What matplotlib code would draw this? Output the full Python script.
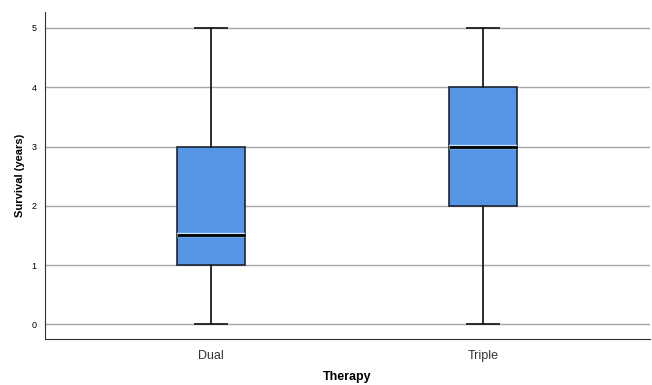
import matplotlib
matplotlib.use("Agg")
import matplotlib.pyplot as plt
import matplotlib.patheffects as pe

categories = ["Dual", "Triple"]
mins = [0, 0]
q1s = [1, 2]
medians = [1.5, 3]
q3s = [3, 4]
maxs = [5, 5]

plt.rcParams["font.family"] = ["Liberation Sans", "DejaVu Sans"]

fig = plt.figure(figsize=(6.52, 3.85), dpi=100)
ax = fig.add_axes([0.069, 0.119, 0.928, 0.850])

stats = [
    {"label": c, "whislo": lo, "q1": a, "med": m, "q3": b, "whishi": hi}
    for c, lo, a, m, b, hi in zip(categories, mins, q1s, medians, q3s, maxs)
]

for y in range(0, 6):
    ax.axhline(y, color="#a6a6a6", lw=1.0, zorder=0)

ax.bxp(
    stats, positions=[0, 1], widths=0.25, showfliers=False, patch_artist=True,
    boxprops=dict(facecolor="#5595e5", edgecolor="#1c2633", lw=1.2),
    whiskerprops=dict(color="#1c1c1c", lw=1.3),
    capprops=dict(color="#1c1c1c", lw=1.3),
    capwidths=0.12,
    medianprops=dict(color="black", lw=2.0,
                     path_effects=[pe.Stroke(linewidth=3.2, foreground="#bfe0ff"), pe.Normal()]),
    zorder=3,
)

ax.set_xlim(-0.61, 1.614)
ax.set_ylim(-0.25, 5.27)
ax.set_yticks(range(0, 6))
ax.tick_params(axis="y", length=0, labelsize=6.5, pad=6)
ax.tick_params(axis="x", length=0, labelsize=9, pad=8, colors="#333333")
ax.spines["top"].set_visible(False)
ax.spines["right"].set_visible(False)
ax.spines["left"].set_color("#333333")
ax.spines["bottom"].set_color("#333333")

ax.set_xlabel("Therapy", fontsize=9, fontweight="bold", labelpad=6)
ax.set_ylabel("Survival (years)", fontsize=8, fontweight="bold", labelpad=5)

fig.savefig("out.png", dpi=100)
